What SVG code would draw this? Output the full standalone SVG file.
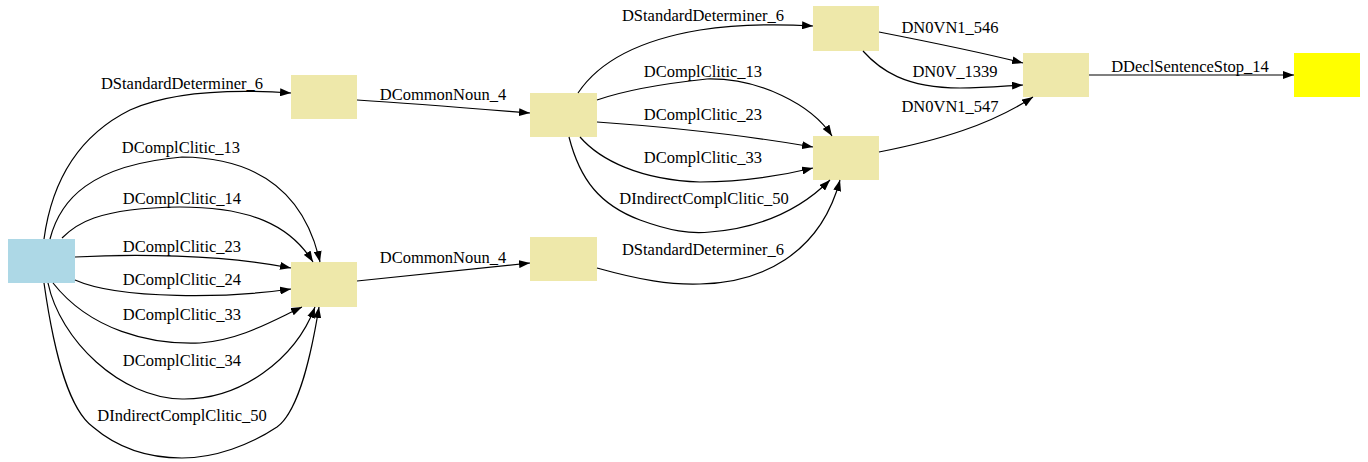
<svg xmlns="http://www.w3.org/2000/svg" width="1368" height="462" viewBox="0 0 1368 462">
<style>
.n{fill:#eee8aa;stroke:none}
.e{fill:none;stroke:#000;stroke-width:1.2;marker-end:url(#ah)}
text{font-family:"Liberation Serif","Times New Roman",serif;font-size:16.5px;fill:#000;text-anchor:middle}
</style>
<defs>
<marker id="ah" markerUnits="userSpaceOnUse" markerWidth="11" markerHeight="8" refX="11" refY="4" orient="auto">
<path d="M0,0 L11,4 L0,8 z" fill="#000"/>
</marker>
</defs>
<rect width="1368" height="462" fill="#fff"/>
<g id="nodeA"><rect x="8" y="239" width="67" height="44" fill="#add8e6"/></g>
<g id="nodeB"><rect class="n" x="291" y="75" width="66" height="44"/></g>
<g id="nodeC"><rect class="n" x="291" y="262" width="66" height="45"/></g>
<g id="nodeD"><rect class="n" x="530" y="93" width="67" height="44"/></g>
<g id="nodeE"><rect class="n" x="530" y="237" width="67" height="44"/></g>
<g id="nodeF"><rect class="n" x="813" y="6" width="66" height="45"/></g>
<g id="nodeG"><rect class="n" x="813" y="136" width="66" height="44"/></g>
<g id="nodeH"><rect class="n" x="1023" y="53" width="66" height="44"/></g>
<g id="nodeI"><rect x="1294" y="53" width="66" height="44" fill="#ffff00"/></g>
<g id="connectors">
<path class="e" d="M44,239 C52,180 80,135 130,110 C170,92 230,89 291,93"/>
<path class="e" d="M50,239 C60,200 90,165 182,157 C260,158 305,195 320,262"/>
<path class="e" d="M62,238 C75,225 95,208 180,207 C250,207 290,225 313,262"/>
<path class="e" d="M75,257 C130,254 220,254 291,268"/>
<path class="e" d="M75,280 C120,300 230,298 291,289"/>
<path class="e" d="M53,283 C90,330 150,345 200,343 C240,340 270,322 302,307"/>
<path class="e" d="M48,283 C60,340 120,398 182,399 C240,400 295,360 315,307"/>
<path class="e" d="M44,283 C55,360 70,410 93,427 C120,450 150,458 182,458 C215,458 250,445 277,427 C300,410 312,350 319,307"/>
<path class="e" d="M357,100 C420,104 480,109 530,113"/>
<path class="e" d="M357,281 C420,274 480,268 530,263"/>
<path class="e" d="M578,93 C600,60 640,40 700,30 C740,24 780,24 813,26"/>
<path class="e" d="M597,100 C620,92 660,84 707,79 C760,78 812,105 832,136"/>
<path class="e" d="M597,122 C680,128 750,136 813,147"/>
<path class="e" d="M580,137 C600,160 640,180 700,182 C740,182 780,176 813,168"/>
<path class="e" d="M569,137 C580,180 600,205 640,220 C670,231 690,234 710,232 C760,228 800,210 830,180"/>
<path class="e" d="M597,268 C640,280 670,285 700,284 C760,283 820,255 840,180"/>
<path class="e" d="M879,32 C930,42 980,52 1023,63"/>
<path class="e" d="M863,51 C880,70 905,88 960,88 C985,88 1005,86 1023,85"/>
<path class="e" d="M879,152 C940,140 990,125 1033,97"/>
<path class="e" d="M1089,75 L1294,75"/>
</g>
<g id="labels">
<text x="182" y="89">DStandardDeterminer_6</text>
<text x="181" y="153">DComplClitic_13</text>
<text x="182" y="204">DComplClitic_14</text>
<text x="182" y="252">DComplClitic_23</text>
<text x="182" y="285">DComplClitic_24</text>
<text x="182" y="320">DComplClitic_33</text>
<text x="182" y="366">DComplClitic_34</text>
<text x="182" y="421">DIndirectComplClitic_50</text>
<text x="443" y="100">DCommonNoun_4</text>
<text x="443" y="263">DCommonNoun_4</text>
<text x="703" y="21">DStandardDeterminer_6</text>
<text x="703" y="77">DComplClitic_13</text>
<text x="703" y="120">DComplClitic_23</text>
<text x="703" y="163">DComplClitic_33</text>
<text x="704" y="204">DIndirectComplClitic_50</text>
<text x="703" y="255">DStandardDeterminer_6</text>
<text x="950" y="33">DN0VN1_546</text>
<text x="955" y="77">DN0V_1339</text>
<text x="950" y="112">DN0VN1_547</text>
<text x="1190" y="72">DDeclSentenceStop_14</text>
</g>
</svg>
